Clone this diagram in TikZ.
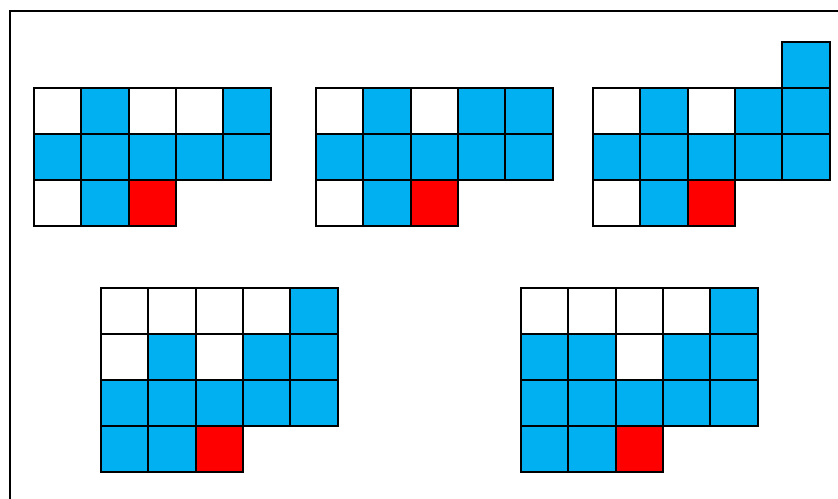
\documentclass[tikz,border=0pt]{standalone}
\definecolor{cB}{HTML}{00B0F0}
\definecolor{cR}{HTML}{FF0000}
\definecolor{cW}{HTML}{FFFFFF}
\tikzset{
  cell/.style={draw=black, line width=2pt, minimum width=47.3pt, minimum height=46pt,
    inner sep=0pt, outer sep=0pt, anchor=north west},
  frameline/.style={draw=black, line width=2.4pt}
}
\newcommand\cellgrid[4]{%
  \foreach \row [count=\r from 0] in {#4} {
    \foreach \c [count=\k from 0] in \row {
      \node[cell, fill=c\c] (#1-\r-\k) at ({#2+\k*47.3}, {#3+\r*46}) {};
    }
  }}
\begin{document}
\begin{tikzpicture}[x=1pt, y=-1pt]
  \useasboundingbox (0,0) rectangle (838,498);
  \clip (0,0) rectangle (838,498);
  % frame
  \coordinate (f1) at (10,505);
  \coordinate (f2) at (10,11);
  \coordinate (f3) at (845,11);
  \draw[frameline] (f1) -- (f2) -- (f3);
  % grids
  \cellgrid{a}{34}{88}{{W,B,W,W,B},{B,B,B,B,B},{W,B,R}}
  \cellgrid{b}{316}{88}{{W,B,W,B,B},{B,B,B,B,B},{W,B,R}}
  \cellgrid{c}{593}{88}{{W,B,W,B,B},{B,B,B,B,B},{W,B,R}}
  \node[cell, fill=cB] (c-top) at (782.2,42) {};
  \cellgrid{d}{101}{288}{{W,W,W,W,B},{W,B,W,B,B},{B,B,B,B,B},{B,B,R}}
  \cellgrid{e}{521}{288}{{W,W,W,W,B},{B,B,W,B,B},{B,B,B,B,B},{B,B,R}}
\end{tikzpicture}
\end{document}
